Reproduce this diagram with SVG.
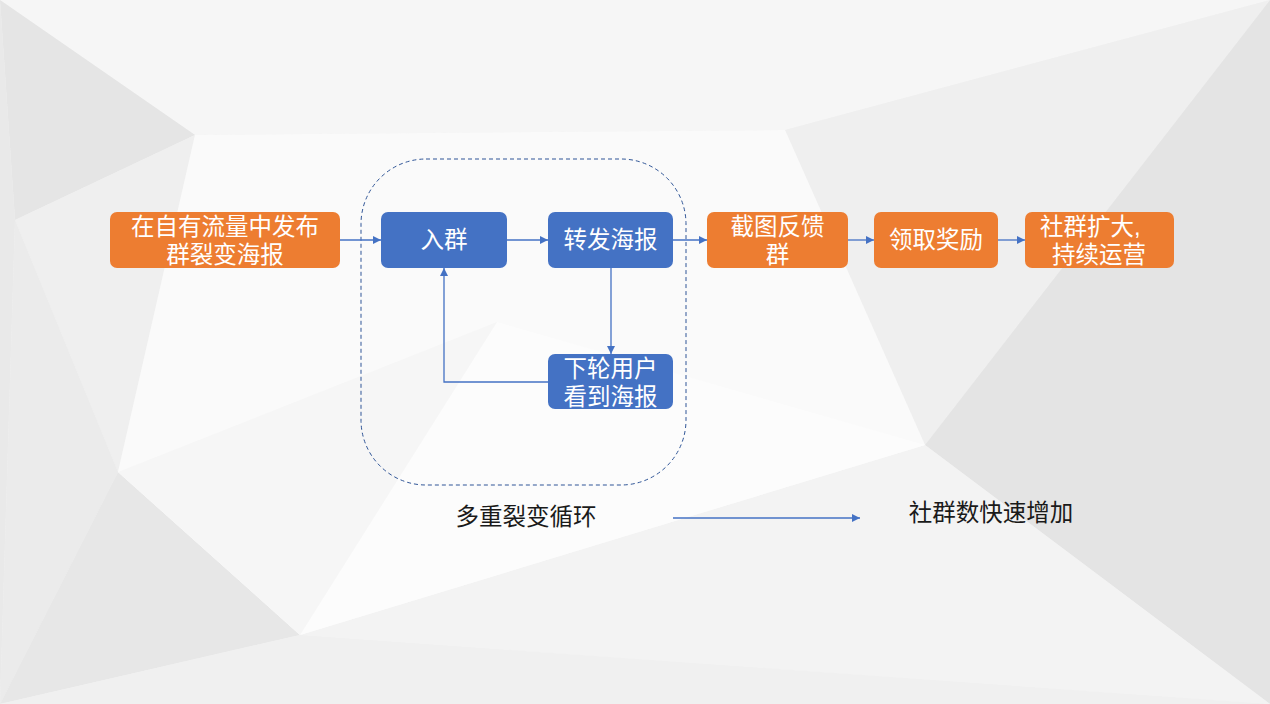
<svg xmlns="http://www.w3.org/2000/svg" width="1270" height="704" viewBox="0 0 1270 704">
<defs>
<style>
.box{stroke:none}
.o{fill:#ED7D31}
.b{fill:#4472C4}
.t{font-family:"Liberation Sans","Noto Sans CJK SC",sans-serif;font-size:23.5px;fill:#ffffff;text-anchor:middle}
.s{text-anchor:start}
.k{font-family:"Liberation Sans","Noto Sans CJK SC",sans-serif;font-size:23.5px;fill:#1a1a1a;text-anchor:middle}
.c{fill:none;stroke:#4472C4;stroke-width:1.3}
</style>
<marker id="ah" viewBox="0 0 10 10" refX="10" refY="5" markerWidth="8" markerHeight="8" markerUnits="userSpaceOnUse" orient="auto">
<path d="M0,0 L10,5 L0,10 Z" fill="#4472C4"/>
</marker>
</defs>
<g id="background">
<rect x="0" y="0" width="1270" height="704" fill="#f2f2f2"/>
<polygon points="0,0 1270,0 785,130 195,135" fill="#f6f6f6"/>
<polygon points="0,0 195,135 15,220" fill="#e5e5e5"/>
<polygon points="0,0 15,220 0,704" fill="#e9e9e9"/>
<polygon points="15,220 195,135 118,472" fill="#efefef"/>
<polygon points="15,220 118,472 0,704" fill="#ebebeb"/>
<polygon points="118,472 300,635 0,704" fill="#e7e7e7"/>
<polygon points="0,704 300,635 1270,704" fill="#f0f0f0"/>
<polygon points="1270,0 785,130 925,445" fill="#efefef"/>
<polygon points="1270,0 925,445 1270,704" fill="#e4e4e4"/>
<polygon points="925,445 1270,704 300,635" fill="#f3f3f3"/>
<polygon points="195,135 785,130 925,445 300,635 118,472" fill="#fafafa"/>
<polygon points="497,322 925,445 300,635" fill="#fcfcfc"/>
<polygon points="118,472 497,322 300,635" fill="#f6f6f6"/>
</g>
<g id="loop-frame">
<rect x="361" y="159" width="325" height="326" rx="65" ry="65" fill="none" stroke="#2F5597" stroke-width="1" stroke-dasharray="4,3"/>
</g>
<g id="connectors">
<line class="c" x1="340" y1="240" x2="381" y2="240" marker-end="url(#ah)"/>
<line class="c" x1="507" y1="240" x2="548" y2="240" marker-end="url(#ah)"/>
<line class="c" x1="673" y1="240" x2="707" y2="240" marker-end="url(#ah)"/>
<line class="c" x1="848" y1="240" x2="874" y2="240" marker-end="url(#ah)"/>
<line class="c" x1="998" y1="240" x2="1025" y2="240" marker-end="url(#ah)"/>
<line class="c" x1="611" y1="268" x2="611" y2="354" marker-end="url(#ah)"/>
<polyline class="c" points="548,382 444,382 444,268" marker-end="url(#ah)"/>
<line class="c" x1="673" y1="518" x2="860" y2="518" marker-end="url(#ah)"/>
</g>
<g id="n1"><rect class="box o" x="110" y="212" width="230" height="56" rx="7"/><text class="t" x="225" y="235">在自有流量中发布</text><text class="t" x="225" y="263">群裂变海报</text></g>
<g id="n2"><rect class="box b" x="381" y="212" width="126" height="56" rx="7"/><text class="t" x="444" y="248">入群</text></g>
<g id="n3"><rect class="box b" x="548" y="212" width="125" height="56" rx="7"/><text class="t" x="610.5" y="248">转发海报</text></g>
<g id="n4"><rect class="box b" x="548" y="354" width="125" height="55" rx="7"/><text class="t" x="610.5" y="377">下轮用户</text><text class="t" x="610.5" y="405">看到海报</text></g>
<g id="n5"><rect class="box o" x="707" y="212" width="141" height="56" rx="7"/><text class="t" x="777.5" y="235">截图反馈</text><text class="t" x="777.5" y="263">群</text></g>
<g id="n6"><rect class="box o" x="874" y="212" width="124" height="56" rx="7"/><text class="t" x="936" y="248">领取奖励</text></g>
<g id="n7"><rect class="box o" x="1025" y="212" width="149" height="56" rx="7"/><text class="t s" x="1040" y="235">社群扩大,</text><text class="t s" x="1052" y="263">持续运营</text></g>
<g id="label1"><text class="k" x="526" y="525">多重裂变循环</text></g>
<g id="label2"><text class="k" x="991" y="521">社群数快速增加</text></g>
</svg>
